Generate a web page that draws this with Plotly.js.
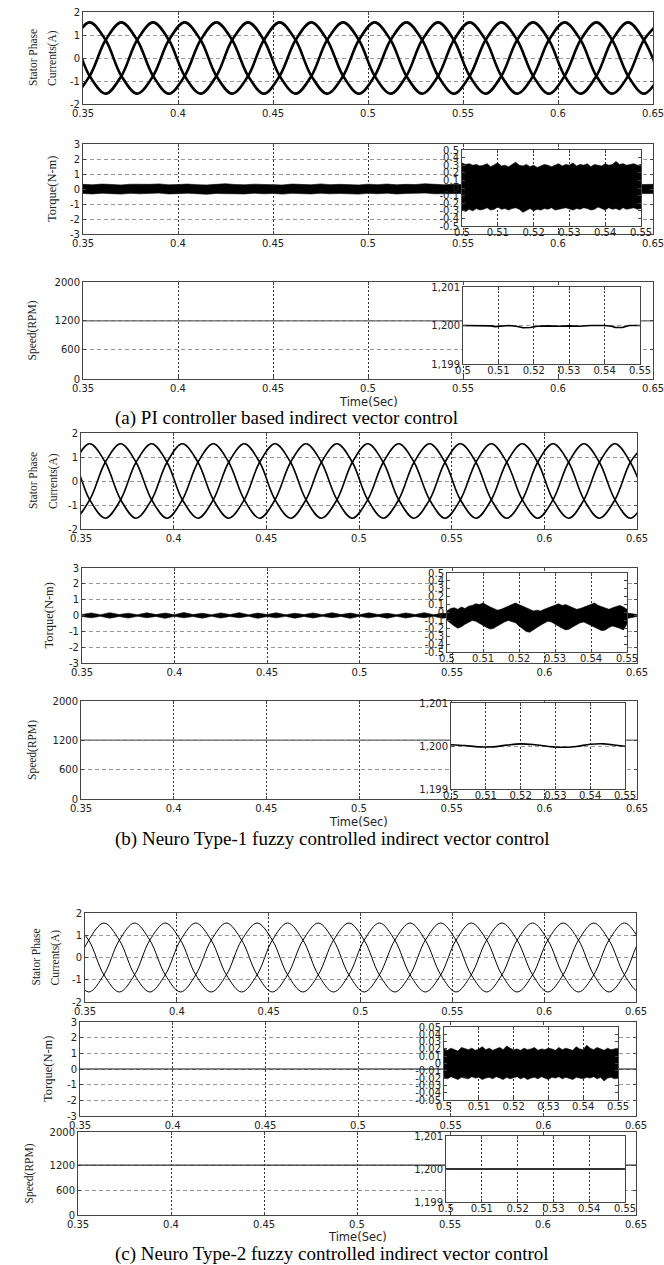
<!DOCTYPE html>
<html><head><meta charset="utf-8">
<script src="https://cdn.plot.ly/plotly-3.0.1.min.js"></script>
<style>body{margin:0;background:#fff}#chart{width:664px;height:1265px}</style>
</head><body><div id="chart"></div>
<script>
// ---------------- DATA ----------------
// Stator phase currents: times of peaks / crossing points (every 1/6 cycle) and the level read at each
const tCurA = [0.3369,0.3452,0.3535,0.3619,0.3702,0.3785,0.3869,0.3952,0.4035,0.4119,0.4202,0.4285,0.4369,0.4452,0.4535,0.4619,0.4702,0.4785,0.4869,0.4952,0.5035,0.5119,0.5202,0.5285,0.5369,0.5452,0.5535,0.5619,0.5702,0.5785,0.5869,0.5952,0.6035,0.6119,0.6202,0.6285,0.6369,0.6452,0.6535];
const tCurB = [0.3381,0.3464,0.3547,0.3631,0.3714,0.3797,0.3881,0.3964,0.4047,0.4131,0.4214,0.4297,0.4381,0.4464,0.4547,0.4631,0.4714,0.4797,0.4881,0.4964,0.5047,0.5131,0.5214,0.5297,0.5381,0.5464,0.5547,0.5631,0.5714,0.5797,0.5881,0.5964,0.6047,0.6131,0.6214,0.6297,0.6381,0.6464,0.6547];
const tCurC = [0.3437,0.3520,0.3603,0.3687,0.3770,0.3853,0.3937,0.4020,0.4103,0.4187,0.4270,0.4353,0.4437,0.4520,0.4603,0.4687,0.4770,0.4853,0.4937,0.5020,0.5103,0.5187,0.5270,0.5353,0.5437,0.5520,0.5603,0.5687,0.5770,0.5853,0.5937,0.6020,0.6103,0.6187,0.6270,0.6353,0.6437,0.6520,0.6603];
const phase1 = [1.55,0.78,-0.78,-1.55,-0.78,0.78, 1.55,0.78,-0.78,-1.55,-0.78,0.78, 1.55,0.78,-0.78,-1.55,-0.78,0.78, 1.55,0.78,-0.78,-1.55,-0.78,0.78, 1.55,0.78,-0.78,-1.55,-0.78,0.78, 1.55,0.78,-0.78,-1.55,-0.78,0.78, 1.55,0.78,-0.78];
const phase2 = [-0.78,0.78,1.55,0.78,-0.78,-1.55, -0.78,0.78,1.55,0.78,-0.78,-1.55, -0.78,0.78,1.55,0.78,-0.78,-1.55, -0.78,0.78,1.55,0.78,-0.78,-1.55, -0.78,0.78,1.55,0.78,-0.78,-1.55, -0.78,0.78,1.55,0.78,-0.78,-1.55, -0.78,0.78,1.55];
const phase3 = [-0.78,-1.55,-0.78,0.78,1.55,0.78, -0.78,-1.55,-0.78,0.78,1.55,0.78, -0.78,-1.55,-0.78,0.78,1.55,0.78, -0.78,-1.55,-0.78,0.78,1.55,0.78, -0.78,-1.55,-0.78,0.78,1.55,0.78, -0.78,-1.55,-0.78,0.78,1.55,0.78, -0.78,-1.55,-0.78];

// Torque ripple envelopes, main window (0.35 - 0.65 s)
const tTorq = [0.35,0.355,0.36,0.365,0.37,0.375,0.38,0.385,0.39,0.395,0.40,0.405,0.41,0.415,0.42,0.425,0.43,0.435,0.44,0.445,0.45,0.455,0.46,0.465,0.47,0.475,0.48,0.485,0.49,0.495,0.50,0.505,0.51,0.515,0.52,0.525,0.53,0.535,0.54,0.545,0.55,0.555,0.56,0.565,0.57,0.575,0.58,0.585,0.59,0.595,0.60,0.605,0.61,0.615,0.62,0.625,0.63,0.635,0.64,0.645,0.65];
const torqA_up = [0.31,0.28,0.33,0.30,0.27,0.32,0.29,0.31,0.34,0.28,0.30,0.33,0.29,0.27,0.31,0.35,0.30,0.28,0.32,0.29,0.31,0.27,0.33,0.30,0.28,0.34,0.29,0.31,0.30,0.27,0.32,0.29,0.33,0.28,0.31,0.30,0.35,0.29,0.28,0.32,0.30,0.31,0.27,0.33,0.29,0.30,0.32,0.28,0.31,0.29,0.33,0.30,0.28,0.31,0.32,0.29,0.30,0.27,0.33,0.30,0.31];
const torqA_lo = [-0.30,-0.33,-0.28,-0.31,-0.34,-0.29,-0.32,-0.30,-0.27,-0.33,-0.31,-0.28,-0.32,-0.35,-0.30,-0.29,-0.31,-0.33,-0.28,-0.32,-0.30,-0.34,-0.29,-0.31,-0.33,-0.28,-0.32,-0.30,-0.31,-0.34,-0.29,-0.32,-0.28,-0.33,-0.30,-0.31,-0.27,-0.32,-0.33,-0.29,-0.31,-0.30,-0.34,-0.28,-0.32,-0.31,-0.29,-0.33,-0.30,-0.32,-0.28,-0.31,-0.33,-0.30,-0.29,-0.32,-0.31,-0.34,-0.28,-0.31,-0.30];
const torqB_up = [0.06,0.16,0.05,0.18,0.06,0.14,0.05,0.17,0.06,0.15,0.05,0.19,0.06,0.14,0.05,0.16,0.06,0.18,0.05,0.15,0.06,0.17,0.05,0.14,0.06,0.16,0.05,0.18,0.06,0.15,0.05,0.17,0.06,0.14,0.05,0.16,0.06,0.18,0.05,0.15,0.06,0.17,0.05,0.14,0.06,0.16,0.05,0.18,0.06,0.15,0.05,0.17,0.06,0.14,0.05,0.16,0.06,0.18,0.05,0.15,0.06];
const torqB_lo = [-0.06,-0.15,-0.05,-0.17,-0.06,-0.16,-0.05,-0.14,-0.06,-0.18,-0.05,-0.15,-0.06,-0.17,-0.05,-0.16,-0.06,-0.14,-0.05,-0.18,-0.06,-0.15,-0.05,-0.17,-0.06,-0.16,-0.05,-0.14,-0.06,-0.18,-0.05,-0.15,-0.06,-0.17,-0.05,-0.16,-0.06,-0.14,-0.05,-0.18,-0.06,-0.15,-0.05,-0.17,-0.06,-0.16,-0.05,-0.14,-0.06,-0.18,-0.05,-0.15,-0.06,-0.17,-0.05,-0.16,-0.06,-0.14,-0.05,-0.18,-0.06];
const tTorqC = [0.35,0.65];
const torqC = [0,0];

// Torque zoom windows (0.50 - 0.55 s)
const tZoom = [0.500,0.501,0.502,0.503,0.504,0.505,0.506,0.507,0.508,0.509,0.510,0.511,0.512,0.513,0.514,0.515,0.516,0.517,0.518,0.519,0.520,0.521,0.522,0.523,0.524,0.525,0.526,0.527,0.528,0.529,0.530,0.531,0.532,0.533,0.534,0.535,0.536,0.537,0.538,0.539,0.540,0.541,0.542,0.543,0.544,0.545,0.546,0.547,0.548,0.549,0.550];
const zoomA_up = [0.33,0.31,0.32,0.30,0.31,0.29,0.30,0.32,0.28,0.31,0.33,0.29,0.30,0.28,0.31,0.34,0.30,0.29,0.31,0.28,0.30,0.27,0.29,0.31,0.30,0.28,0.30,0.32,0.29,0.31,0.30,0.33,0.29,0.31,0.30,0.32,0.28,0.31,0.30,0.29,0.32,0.30,0.31,0.35,0.31,0.32,0.30,0.31,0.32,0.30,0.31];
const zoomA_lo = [-0.29,-0.31,-0.28,-0.30,-0.27,-0.29,-0.28,-0.26,-0.29,-0.28,-0.25,-0.28,-0.27,-0.29,-0.27,-0.26,-0.28,-0.32,-0.29,-0.27,-0.30,-0.28,-0.29,-0.27,-0.28,-0.26,-0.29,-0.28,-0.27,-0.26,-0.28,-0.29,-0.27,-0.28,-0.26,-0.27,-0.29,-0.28,-0.25,-0.27,-0.29,-0.26,-0.28,-0.27,-0.29,-0.26,-0.28,-0.27,-0.26,-0.28,-0.27];
const zoomB_up = [0.02,0.05,0.06,0.04,0.07,0.05,0.08,0.09,0.11,0.10,0.12,0.09,0.07,0.05,0.03,0.04,0.06,0.09,0.11,0.12,0.10,0.08,0.05,0.03,0.02,0.03,0.02,0.04,0.06,0.08,0.10,0.11,0.09,0.10,0.08,0.06,0.04,0.05,0.07,0.09,0.10,0.12,0.09,0.07,0.05,0.04,0.06,0.08,0.09,0.07,0.04];
const zoomB_lo = [-0.10,-0.14,-0.17,-0.20,-0.18,-0.15,-0.12,-0.10,-0.11,-0.13,-0.16,-0.19,-0.21,-0.20,-0.17,-0.14,-0.12,-0.10,-0.11,-0.13,-0.17,-0.21,-0.24,-0.25,-0.22,-0.19,-0.16,-0.13,-0.11,-0.12,-0.14,-0.17,-0.20,-0.22,-0.21,-0.18,-0.15,-0.13,-0.12,-0.14,-0.17,-0.19,-0.21,-0.23,-0.22,-0.19,-0.17,-0.18,-0.20,-0.22,-0.15];
const zoomC_up = [0.020,0.018,0.021,0.019,0.017,0.022,0.020,0.019,0.021,0.018,0.020,0.023,0.019,0.021,0.018,0.020,0.022,0.019,0.024,0.021,0.019,0.020,0.018,0.021,0.019,0.020,0.022,0.018,0.020,0.019,0.021,0.020,0.018,0.022,0.019,0.021,0.020,0.018,0.023,0.020,0.019,0.025,0.021,0.019,0.022,0.020,0.018,0.021,0.019,0.020,0.021];
const zoomC_lo = [-0.019,-0.021,-0.018,-0.020,-0.022,-0.019,-0.020,-0.021,-0.018,-0.020,-0.019,-0.022,-0.020,-0.019,-0.021,-0.018,-0.020,-0.022,-0.019,-0.021,-0.020,-0.018,-0.021,-0.019,-0.022,-0.020,-0.019,-0.021,-0.018,-0.020,-0.022,-0.019,-0.020,-0.018,-0.021,-0.019,-0.020,-0.022,-0.019,-0.020,-0.021,-0.019,-0.020,-0.018,-0.021,-0.019,-0.024,-0.020,-0.019,-0.021,-0.020];

// Speed
const tSpeed = [0.35,0.65];
const speedMain = [1200,1200];
const tSpdZoomA = [0.500,0.505,0.508,0.509,0.511,0.513,0.515,0.517,0.519,0.521,0.524,0.527,0.530,0.533,0.536,0.540,0.542,0.543,0.545,0.547,0.550];
const spdZoomA = [1200,1200,1199.99,1199.97,1199.98,1200,1199.98,1199.94,1199.95,1199.98,1199.99,1199.98,1199.99,1199.98,1200,1200,1199.98,1199.95,1199.95,1200,1200];
const tSpdZoomB = [0.500,0.504,0.508,0.512,0.516,0.520,0.524,0.528,0.532,0.536,0.540,0.544,0.548,0.550];
const spdZoomB = [1200.03,1200.01,1199.98,1199.98,1200.02,1200.05,1200.03,1199.99,1199.97,1199.99,1200.04,1200.05,1200.01,1199.99];
const tSpdZoomC = [0.500,0.550];
const spdZoomC = [1200,1200];

// Tick labels
const mainXTicks = [0.35,0.4,0.45,0.5,0.55,0.6,0.65];
const mainXText = ['0.35','0.4','0.45','0.5','0.55','0.6','0.65'];
const zoomXTicks = [0.5,0.51,0.52,0.53,0.54,0.55];
const zoomXText = ['0.5','0.51','0.52','0.53','0.54','0.55'];
const curTicks = [-2,-1,0,1,2];
const curText = ['-2','-1','0','1','2'];
const torTicks = [-3,-2,-1,0,1,2,3];
const torText = ['-3','-2','-1','0','1','2','3'];
const spdTicks = [0,600,1200,2000];
const spdText = ['0','600','1200','2000'];
const zTorTicks = [-0.5,-0.4,-0.3,-0.2,-0.1,0,0.1,0.2,0.3,0.4,0.5];
const zTorText = ['-0.5','-0.4','-0.3','-0.2','-0.1','0','0.1','0.2','0.3','0.4','0.5'];
const zTorTicksC = [-0.05,-0.04,-0.03,-0.02,-0.01,0,0.01,0.02,0.03,0.04,0.05];
const zTorTextC = ['-0.05','-0.04','-0.03','-0.02','-0.01','0','0.01','0.02','0.03','0.04','0.05'];
const zTorGrid = [-0.4,-0.2,0,0.2,0.4];
const zTorGridC = [-0.04,-0.02,0,0.02,0.04];
const zSpdTicks = [1199,1200,1201];
const zSpdText = ['1,199','1,200','1,201'];

const captions = ['(a) PI controller based indirect vector control','(b) Neuro Type-1 fuzzy controlled indirect vector control','(c) Neuro Type-2 fuzzy controlled indirect vector control'];

// ---------------- LAYOUT ----------------
const W = 664, H = 1265;
const tickFont = {family:'DejaVu Sans, Verdana, sans-serif', size:10, color:'#222'};
function dx(a,b){return [a/W,b/W];}
function dy(top,bot){return [1-bot/H,1-top/H];}
const common = {showline:true, mirror:'ticks', linecolor:'#444', linewidth:1, ticks:'inside', ticklen:3, tickcolor:'#444', tickfont:tickFont, zeroline:false, fixedrange:true, tickmode:'array', ticklabeloverflow:'allow'};
function xAx(px0,px1,range,tv,tt,anchor,sto){return Object.assign({}, common, {domain:dx(px0,px1), range:range, tickvals:tv, ticktext:tt, anchor:anchor, showgrid:true, gridcolor:'#333', griddash:'2px,2px', gridwidth:1, ticklabelstandoff:sto||0});}
function yAx(py0,py1,range,tv,tt,anchor,grid){return Object.assign({}, common, {domain:dy(py0,py1), range:range, tickvals:tv, ticktext:tt, anchor:anchor, showgrid:grid!==false, gridcolor:'#999', griddash:'4px,3px', gridwidth:1});}

// pixel boxes [x0,x1,y0,y1]
const boxes = {
 1:[83,653,12,104], 2:[83,653,144,234], 3:[83,653,282,379],
 4:[81,637,433,529], 5:[82,637,568,663], 6:[81,637,701,799],
 7:[85,636,913,1002], 8:[80,636,1022,1116], 9:[78,636,1132,1215],
 10:[462,641,150,226], 11:[463,640,287,364],
 12:[447,627,573,652], 13:[451,625,703,789],
 14:[444,618,1027,1100], 15:[446,625,1136,1202]
};
const kinds = {1:'cur',2:'tor',3:'spd',4:'cur',5:'tor',6:'spd',7:'cur',8:'tor',9:'spd',10:'ztor',11:'zspd',12:'ztor',13:'zspd',14:'ztorc',15:'zspd'};

const layout = {width:W, height:H, margin:{l:0,r:0,t:0,b:0}, paper_bgcolor:'#fff', plot_bgcolor:'#fff', showlegend:false, shapes:[], annotations:[]};
for (let i=1;i<=15;i++){
  const b = boxes[i], k = kinds[i];
  const xn = i===1?'xaxis':'xaxis'+i, yn = i===1?'yaxis':'yaxis'+i;
  const xid = i===1?'x':'x'+i, yid = i===1?'y':'y'+i;
  if (k==='cur'||k==='tor'||k==='spd') layout[xn] = xAx(b[0],b[1],[0.35,0.65],mainXTicks,mainXText,yid,0);
  else layout[xn] = xAx(b[0],b[1],[0.5,0.55],zoomXTicks,zoomXText,yid,-3);
  if (k==='cur') layout[yn] = yAx(b[2],b[3],[-2,2],curTicks,curText,xid);
  if (k==='tor') layout[yn] = yAx(b[2],b[3],[-3,3],torTicks,torText,xid);
  if (k==='spd') layout[yn] = yAx(b[2],b[3],[0,2000],spdTicks,spdText,xid);
  if (k==='ztor') layout[yn] = yAx(b[2],b[3],[-0.5,0.5],zTorTicks,zTorText,xid,false);
  if (k==='ztorc') layout[yn] = yAx(b[2],b[3],[-0.05,0.05],zTorTicksC,zTorTextC,xid,false);
  if (k==='zspd') layout[yn] = yAx(b[2],b[3],[1199,1201],zSpdTicks,zSpdText,xid);
  if (k==='ztor'||k==='ztorc'){
    const g = k==='ztor'?zTorGrid:zTorGridC;
    g.forEach(v=>layout.shapes.push({type:'line', layer:'below', xref:xid+' domain', yref:yid, x0:0, x1:1, y0:v, y1:v, line:{color:'#999', width:1, dash:'4px,3px'}}));
  }
}

// titles
const serif = {family:'Liberation Serif, Times New Roman, serif', size:11.5, color:'#222'};
function ann(x,y,text,opts){layout.annotations.push(Object.assign({xref:'paper',yref:'paper',x:x/W,y:1-y/H,text:text,showarrow:false,xanchor:'center',yanchor:'middle'},opts));}
[[1,33,53],[4,33,53],[7,35,55]].forEach(([i,xa,xb])=>{
  const b=boxes[i], yc=(b[2]+b[3])/2;
  ann(xa,yc,'Stator Phase',{textangle:-90,font:serif});
  ann(xb,yc,'Currents(A)',{textangle:-90,font:serif});
});
[[2,52],[5,48],[8,48]].forEach(([i,x])=>{const b=boxes[i]; ann(x,(b[2]+b[3])/2,'Torque(N-m)',{textangle:-90,font:Object.assign({},serif,{size:12.5})});});
[[3,32],[6,32],[9,29]].forEach(([i,x])=>{const b=boxes[i]; ann(x,(b[2]+b[3])/2,'Speed(RPM)',{textangle:-90,font:serif});});
[[3,402],[6,822],[9,1237]].forEach(([i,y])=>{const b=boxes[i]; ann((b[0]+b[1])/2,y,'Time(Sec)',{font:{family:'DejaVu Sans, Verdana, sans-serif',size:11.5,color:'#222'}});});
[[418,captions[0]],[839,captions[1]],[1254,captions[2]]].forEach(([y,t])=>ann(113,y,t,{xanchor:'left',font:{family:'Liberation Serif, Times New Roman, serif',size:19,color:'#000'}}));

// ---------------- TRACES ----------------
const traces = [];
function ax(i){return {xaxis:i===1?'x':'x'+i, yaxis:i===1?'y':'y'+i};}
function line(i,x,y,w,color,shape){traces.push(Object.assign({type:'scatter',mode:'lines',x:x,y:y,line:{color:color,width:w,shape:shape||'linear',smoothing:1},hoverinfo:'skip'},ax(i)));}
function band(i,x,up,lo){
  const xs = x.concat(x.slice().reverse());
  const ys = up.concat(lo.slice().reverse());
  traces.push(Object.assign({type:'scatter',mode:'lines',x:xs,y:ys,fill:'toself',fillcolor:'#000',line:{color:'#000',width:0.6},hoverinfo:'skip'},ax(i)));
}
// currents
[[1,tCurA,2.6],[4,tCurB,1.6],[7,tCurC,1.0]].forEach(([i,t,w])=>{
  [phase1,phase2,phase3].forEach(p=>line(i,t,p,w,'#000','spline'));
});
// torque
band(2,tTorq,torqA_up,torqA_lo);
band(5,tTorq,torqB_up,torqB_lo);
line(8,tTorqC,torqC,1,'#111');
// speed main
line(3,tSpeed,speedMain,1.2,'#666');
line(6,tSpeed,speedMain,1.2,'#666');
line(9,tSpeed,speedMain,1.2,'#333');
// insets
band(10,tZoom,zoomA_up,zoomA_lo);
band(12,tZoom,zoomB_up,zoomB_lo);
band(14,tZoom,zoomC_up,zoomC_lo);
line(11,tSpdZoomA,spdZoomA,1.6,'#000');
line(13,tSpdZoomB,spdZoomB,1.6,'#000','spline');
line(15,tSpdZoomC,spdZoomC,2.2,'#333');

Plotly.newPlot('chart',traces,layout,{staticPlot:true,displayModeBar:false});
</script>
</body></html>
